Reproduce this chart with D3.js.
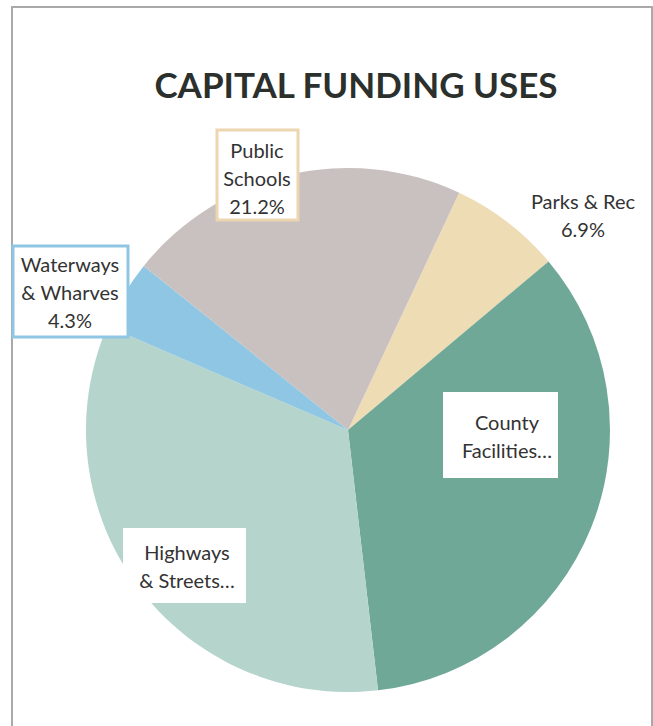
<!DOCTYPE html>
<html>
<head>
<meta charset="utf-8">
<script src="https://cdn.jsdelivr.net/npm/d3@7"></script>
<style>
  html, body { margin: 0; padding: 0; background: #fff; }
  svg { display: block; }
</style>
</head>
<body>
<script>
// Capital funding uses, share of total (%), clockwise from Parks & Rec
const categories = ["Parks & Rec", "County Facilities", "Highways & Streets", "Waterways & Wharves", "Public Schools"];
const shares = [6.9, 34.3, 33.3, 4.3, 21.2];
// Label text as printed (long labels are cut off with an ellipsis)
const labelLines = [
  ["Parks & Rec", "6.9%"],
  ["County", "Facilities…"],
  ["Highways", "& Streets…"],
  ["Waterways", "& Wharves", "4.3%"],
  ["Public", "Schools", "21.2%"]
];
const colors = ["#eedcb5", "#6fa897", "#b4d4cc", "#8fc6e3", "#c9c0c0"];

const W = 653, H = 726;
const cx = 348, cy = 430, R = 262;

const svg = d3.select("body").append("svg")
  .attr("width", W).attr("height", H);

// outer frame
svg.append("rect")
  .attr("x", 12).attr("y", 7)
  .attr("width", 640).attr("height", 730)
  .attr("fill", "#fff")
  .attr("stroke", "#a9a9a9").attr("stroke-width", 2);

// title
svg.append("text")
  .attr("x", 356).attr("y", 98)
  .attr("text-anchor", "middle")
  .attr("font-family", "Lato, 'Open Sans', sans-serif")
  .attr("font-weight", 700)
  .attr("font-size", 35)
  .attr("fill", "#2b302d")
  .text("CAPITAL FUNDING USES");

const startA = 25.1 * Math.PI / 180;
const pie = d3.pie().sort(null).value(d => d)
  .startAngle(startA).endAngle(startA + 2 * Math.PI);
const arcs = pie(shares);
const arc = d3.arc().innerRadius(0).outerRadius(R);

const g = svg.append("g").attr("transform", `translate(${cx},${cy})`);
g.selectAll("path").data(arcs).join("path")
  .attr("d", arc)
  .attr("fill", (d, i) => colors[i]);

// label layout: text centre, box (x, y, w, h) and box border colour
const labelLayout = [
  { tx: 583, ty: 216, box: null },
  { tx: 507, ty: 436.5, box: [443, 392, 115, 86], border: null },
  { tx: 187, ty: 567, box: [123, 528, 123, 75], border: null },
  { tx: 70, ty: 293, box: [13, 246, 115, 91], border: "#8fc6e3" },
  { tx: 257, ty: 179, box: [217, 130, 81, 90], border: "#ebd6b0" }
];
const lineH = 28;
const fontFam = "Lato, 'Open Sans', sans-serif";

arcs.forEach((d, i) => {
  const p = labelLayout[i];
  const lines = labelLines[i];
  if (p.box) {
    const [bx, by, bw, bh] = p.box;
    svg.append("rect")
      .attr("x", bx).attr("y", by)
      .attr("width", bw).attr("height", bh)
      .attr("fill", "#fff")
      .attr("stroke", p.border || "none")
      .attr("stroke-width", p.border ? 3 : 0);
  }
  lines.forEach((t, k) => {
    svg.append("text")
      .attr("x", p.tx)
      .attr("y", p.ty + (k - (lines.length - 1) / 2) * lineH)
      .attr("dy", "0.35em")
      .attr("text-anchor", "middle")
      .attr("font-family", fontFam)
      .attr("font-size", 20)
      .attr("fill", "#333")
      .text(t);
  });
});
</script>
</body>
</html>
